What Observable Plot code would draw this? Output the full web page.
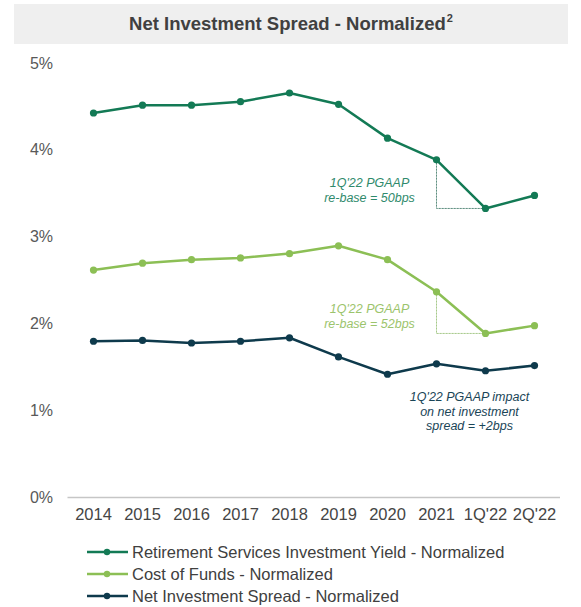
<!DOCTYPE html>
<html>
<head>
<meta charset="utf-8">
<script src="https://cdn.jsdelivr.net/npm/d3@7"></script>
<script src="https://cdn.jsdelivr.net/npm/@observablehq/plot@0.6"></script>
<style>
  html, body { margin: 0; padding: 0; background: #fff; }
  body { width: 581px; height: 607px; font-family: "Liberation Sans", Arial, sans-serif; position: relative; overflow: hidden; }
  #title { position: absolute; left: 14px; top: 4px; width: 554px; height: 40px; background: #efefef;
           display: flex; align-items: center; justify-content: center; font-weight: bold; font-size: 18.5px; color: #404040; }
  #title sup { font-size: 11px; vertical-align: baseline; position: relative; top: -8px; margin-left: 1px; }
  #chart { position: absolute; left: 0; top: 46px; }
  #legend { position: absolute; left: 86px; top: 541px; font-size: 16.5px; color: #404040; }
  .row { display: flex; align-items: center; height: 22px; }
  .row svg { margin-right: 3px; }
</style>
</head>
<body>
<div id="title"><span>Net Investment Spread - Normalized<sup>2</sup></span></div>
<div id="chart"></div>
<div id="legend"></div>
<script>
const categories = ["2014","2015","2016","2017","2018","2019","2020","2021","1Q'22","2Q'22"];
const yieldValues = [4.43, 4.52, 4.52, 4.56, 4.66, 4.53, 4.14, 3.89, 3.33, 3.48];
const costValues  = [2.62, 2.70, 2.74, 2.76, 2.81, 2.90, 2.74, 2.37, 1.89, 1.98];
const spreadValues = [1.80, 1.81, 1.78, 1.80, 1.84, 1.62, 1.42, 1.54, 1.46, 1.52];
const seriesNames = ["Retirement Services Investment Yield - Normalized", "Cost of Funds - Normalized", "Net Investment Spread - Normalized"];
const seriesColors = ["#137a55", "#8cbf55", "#0e3a4c"];
const yTicks = [0, 1, 2, 3, 4, 5];
const notes = [
  {text: "1Q'22 PGAAP\nre-base = 50bps", x: "2020", y: 3.55, color: "#2f8a6c", dx: -18},
  {text: "1Q'22 PGAAP\nre-base = 52bps", x: "2020", y: 2.09, color: "#9cc46c", dx: -18},
  {text: "1Q'22 PGAAP impact\non net investment\nspread = +2bps", x: "1Q'22", y: 1.00, color: "#1a4557", dx: -16}
];

const allSeries = [yieldValues, costValues, spreadValues];
const data = allSeries.flatMap((vals, s) => vals.map((v, i) => ({x: categories[i], y: v, s: seriesNames[s]})));

function stepPath(vals, name) {
  return [
    {x: categories[7], y: vals[7], s: name},
    {x: categories[7], y: vals[8], s: name},
    {x: categories[8], y: vals[8], s: name}
  ];
}
const steps = [...stepPath(yieldValues, "a"), ...stepPath(costValues, "b")];

const noteMarks = notes.map(n => Plot.text([n], {
  x: "x", y: "y", text: "text", fill: n.color, dx: n.dx,
  fontSize: 12.5, fontStyle: "italic", lineHeight: 1.2, textAnchor: "middle"
}));

const chart = Plot.plot({
  width: 581,
  height: 486,
  marginLeft: 67.5,
  marginRight: 21,
  marginTop: 17,
  marginBottom: 35,
  style: {fontFamily: "'Liberation Sans', Arial, sans-serif", background: "transparent"},
  x: {type: "point", domain: categories, padding: 0.5},
  y: {domain: [0, 5]},
  color: {domain: seriesNames, range: seriesColors},
  marks: [
    Plot.axisY({ticks: yTicks, tickFormat: d => d + "%", tickSize: 0, tickPadding: 15, fontSize: 16, color: "#595959", label: null}),
    Plot.axisX({tickSize: 0, tickPadding: 11, fontSize: 16.5, color: "#454545", label: null}),
    Plot.ruleY([0], {stroke: "#c6c6c6", strokeWidth: 1.5}),
    Plot.line(steps, {x: "x", y: "y", z: "s", stroke: d => d.s === "a" ? "#5f8f80" : "#a6c98a", strokeWidth: 1, strokeDasharray: "1.5,1.5"}),
    Plot.line(data, {x: "x", y: "y", z: "s", stroke: "s", strokeWidth: 2.5}),
    Plot.dot(data, {x: "x", y: "y", fill: "s", r: 3.6}),
    ...noteMarks
  ]
});
document.getElementById("chart").appendChild(chart);

const legend = document.getElementById("legend");
seriesNames.forEach((n, i) => {
  const row = document.createElement("div");
  row.className = "row";
  row.innerHTML = `<svg width="43" height="10"><line x1="1" y1="5" x2="42" y2="5" stroke="${seriesColors[i]}" stroke-width="2.5"/><circle cx="21" cy="5" r="3.2" fill="${seriesColors[i]}"/></svg><span>${n}</span>`;
  legend.appendChild(row);
});
</script>
</body>
</html>
